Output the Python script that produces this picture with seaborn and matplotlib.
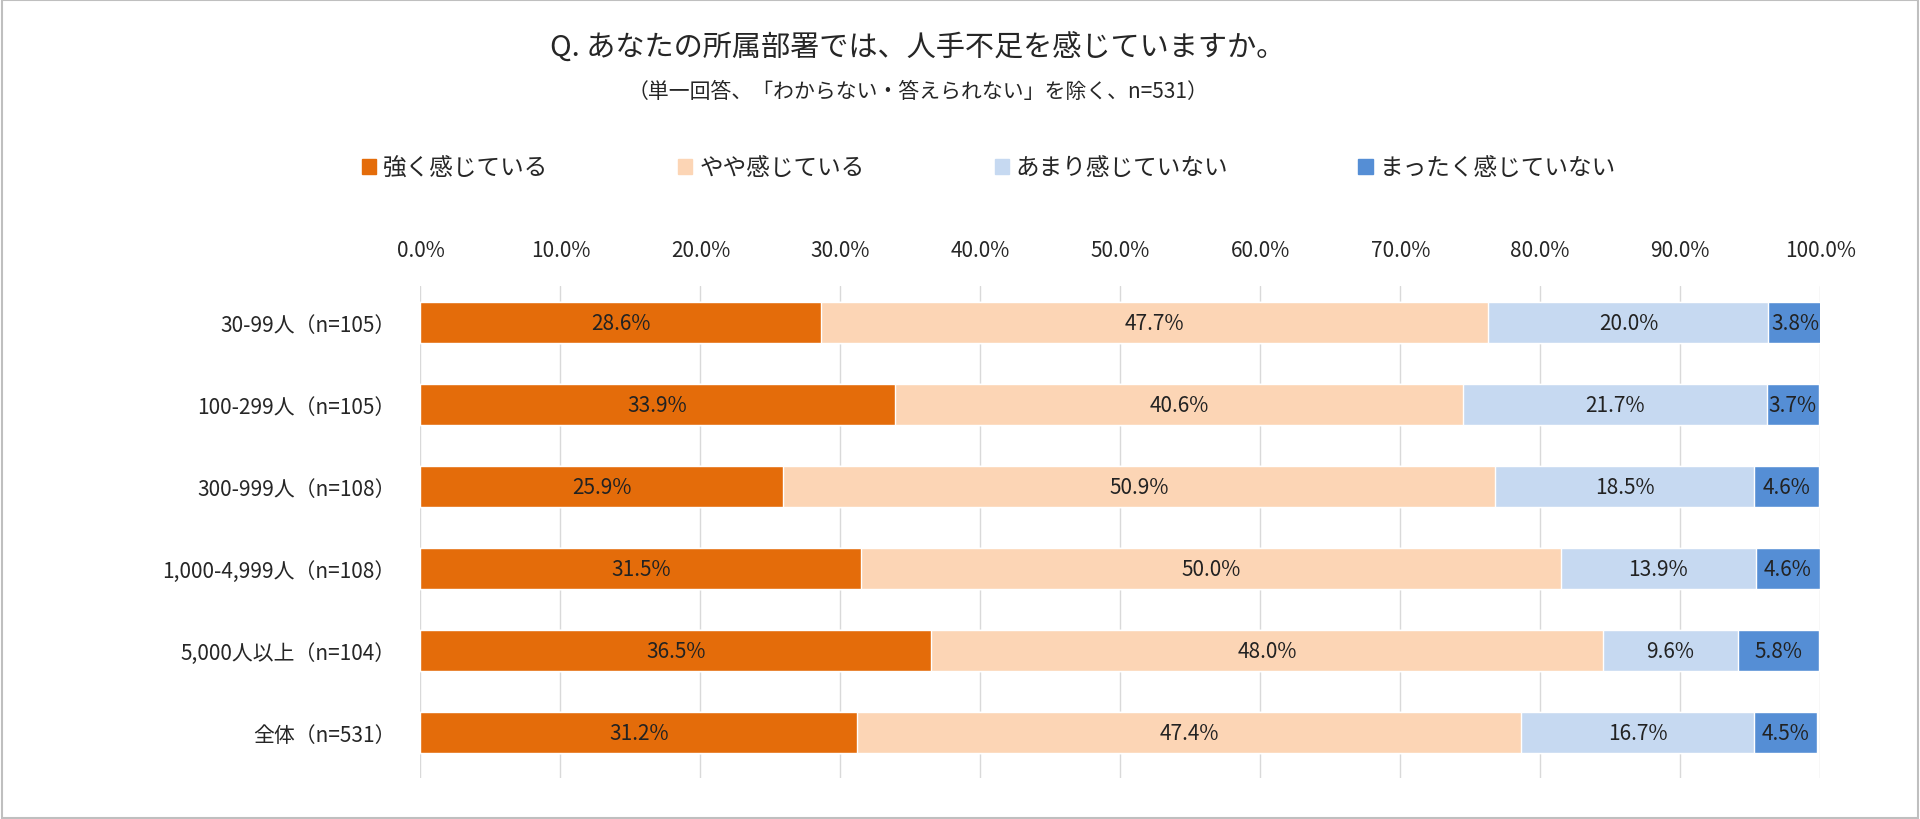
import matplotlib
matplotlib.use("Agg")
import matplotlib.pyplot as plt
import matplotlib.patches as mpatches
import numpy as np
import pandas as pd
import seaborn as sns

groups = ["30-99人（n=105）", "100-299人（n=105）", "300-999人（n=108）",
          "1,000-4,999人（n=108）", "5,000人以上（n=104）", "全体（n=531）"]
series_names = ["強く感じている", "やや感じている", "あまり感じていない", "まったく感じていない"]
strong = [28.6, 33.9, 25.9, 31.5, 36.5, 31.2]
some = [47.7, 40.6, 50.9, 50.0, 48.0, 47.4]
little = [20.0, 21.7, 18.5, 13.9, 9.6, 16.7]
none_ = [3.8, 3.7, 4.6, 4.6, 5.8, 4.5]
colors = ["#E46C0A", "#FCD5B5", "#C6D9F1", "#558ED5"]

sns.set_theme(style="white")
plt.rcParams["font.family"] = ["Noto Sans CJK JP", "DejaVu Sans"]

fig = plt.figure(figsize=(19.2, 8.2), dpi=100)
ax = fig.add_axes([0.219, 0.05, 0.729, 0.6])

vals = np.array([strong, some, little, none_])
cum = vals.cumsum(axis=0)
# draw from the total down so earlier segments cover later ones
for i in range(3, -1, -1):
    df = pd.DataFrame({"group": groups, "v": cum[i]})
    sns.barplot(data=df, x="v", y="group", orient="h", color=colors[i],
                width=0.5, ax=ax, saturation=1, zorder=2)

for i in range(4):
    for j in range(len(groups)):
        left = cum[i][j] - vals[i][j]
        ax.text(left + vals[i][j] / 2, j, f"{vals[i][j]:.1f}%",
                ha="center", va="center", fontsize=15, color="#222222", zorder=3)

ax.set_xlim(0, 100)
ax.set_ylim(len(groups) - 0.45, -0.45)
ax.set_xticks(np.arange(0, 101, 10))
ax.set_xticklabels([f"{t:.1f}%" for t in range(0, 101, 10)], fontsize=15)
ax.xaxis.tick_top()
ax.tick_params(axis="x", length=0, pad=18)
ax.tick_params(axis="y", length=0, labelsize=15, pad=18)
ax.set_xlabel("")
ax.set_ylabel("")
ax.grid(axis="x", color="#D9D9D9", linewidth=1, zorder=0)
ax.set_axisbelow(True)
for s in ax.spines.values():
    s.set_visible(False)

fig.text(0.478, 0.94, "Q. あなたの所属部署では、人手不足を感じていますか。",
         ha="center", va="center", fontsize=21)
fig.text(0.478, 0.888, "（単一回答、「わからない・答えられない」を除く、n=531）",
         ha="center", va="center", fontsize=15)

handles = [mpatches.Patch(color=c, label=n) for c, n in zip(colors, series_names)]
fig.legend(handles=handles, loc="center", bbox_to_anchor=(0.515, 0.794), ncol=4,
           frameon=False, fontsize=17, handlelength=0.6, handleheight=0.6,
           columnspacing=5.5, handletextpad=0.3)

fig.patches.append(mpatches.Rectangle((0.001, 0.001), 0.998, 0.998, transform=fig.transFigure,
                                      fill=False, edgecolor="#BFBFBF", linewidth=1.5))
fig.savefig("out.png", dpi=100)
